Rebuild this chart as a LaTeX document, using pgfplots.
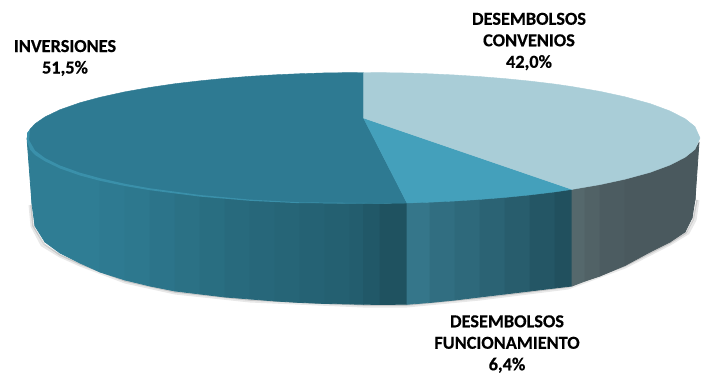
\documentclass[border=0pt]{standalone}
\usepackage{fontspec}
\setmainfont{Carlito}[BoldFeatures={FakeBold=0.4}]
\usepackage{pgfplots}
\pgfplotsset{compat=1.18}
\definecolor{invA}{HTML}{2F7D94}
\definecolor{invB}{HTML}{1F5260}
\definecolor{midA}{HTML}{35768A}
\definecolor{midB}{HTML}{21505E}
\definecolor{rgtA}{HTML}{55686C}
\definecolor{rgtB}{HTML}{4A595E}
\definecolor{topInv}{HTML}{2E7A92}
\definecolor{topMid}{HTML}{44A0BB}
\definecolor{topCon}{HTML}{A9CDD7}
\definecolor{rim}{HTML}{3A90AA}
% strip of the side wall: x1 top1 bottom1 x2 top2 bottom2 colour
\newcommand\strip[7]{\addplot[fill={#7},draw={#7},line width=.8pt,line join=round] coordinates {(#1,#2)(#4,#5)(#4,#6)(#1,#3)} --cycle;}
\begin{document}
\begin{tikzpicture}
\begin{axis}[scale only axis,width=707pt,height=375pt,xmin=0,xmax=707,ymin=0,ymax=375,y dir=reverse,hide axis,clip=false]
\path[draw=none,fill=none] (axis cs:0,0) rectangle (axis cs:707,375);
% soft shadow
\addplot[gray,opacity=.18,line width=3pt,line join=round] coordinates {(30,205)(32,226)(42,245)(60,256)(80,265)(125,282)(175,293)(250,301)(363,306)(407,306)(480,299)(568,288)(625,267)(670,244)(688,233)(695,220)(698,200)};
\addplot[gray,opacity=.3,line width=1.5pt,line join=round] coordinates {(31,205)(33,226)(44,244)(60,255)(80,264)(125,281)(175,292)(250,300)(363,305)(407,305)(480,298)(568,287)(625,266)(670,243)(686,233)(693,220)(697,200)};
% side wall: inversiones
\strip{27}{138}{138}{32}{149.3}{204}{invA}
\strip{32}{149.3}{204}{35}{152.2}{226}{invA}
\strip{35}{152.2}{226}{45}{159.1}{242}{invA}
\strip{45}{159.1}{242}{60}{166.3}{253}{invA}
\strip{60}{166.3}{253}{80}{173.3}{263}{invA}
\strip{80}{173.3}{263}{100}{178.7}{272}{invA}
\strip{100}{178.7}{272}{125}{184.2}{280}{invB!6!invA}
\strip{125}{184.2}{280}{150}{188.6}{286}{invB!12!invA}
\strip{150}{188.6}{286}{175}{192.3}{291}{invB!20!invA}
\strip{175}{192.3}{291}{200}{195.2}{294}{invB!28!invA}
\strip{200}{195.2}{294}{225}{197.7}{297}{invB!36!invA}
\strip{225}{197.7}{297}{250}{199.7}{299}{invB!44!invA}
\strip{250}{199.7}{299}{275}{201.2}{301}{invB!50!invA}
\strip{275}{201.2}{301}{300}{202.3}{302.5}{invB!56!invA}
\strip{300}{202.3}{302.5}{325}{203.1}{303.5}{invB!62!invA}
\strip{325}{203.1}{303.5}{350}{203.4}{304}{invB!68!invA}
\strip{350}{203.4}{304}{363.5}{203.5}{304.3}{invB!74!invA}
\strip{363.5}{203.5}{304.3}{380}{203.4}{304.4}{invB!85!invA}
\strip{380}{203.4}{304.4}{407}{203}{304.3}{invB}
% side wall: funcionamiento
\strip{407}{203}{304.3}{430}{202.2}{302.5}{midA}
\strip{430}{202.2}{302.5}{455}{201}{300}{midB!20!midA}
\strip{455}{201}{300}{480}{199.4}{297}{midB!35!midA}
\strip{480}{199.4}{297}{505}{197.4}{294}{midB!50!midA}
\strip{505}{197.4}{294}{530}{194.9}{291}{midB!65!midA}
\strip{530}{194.9}{291}{555}{191.9}{288}{midB!85!midA}
\strip{555}{191.9}{288}{572}{189.4}{286}{midB}
% side wall: convenios
\strip{572}{189.4}{286}{585}{187}{281}{rgtA}
\strip{585}{187}{281}{600}{184.6}{276}{rgtB!40!rgtA}
\strip{600}{184.6}{276}{625}{179.2}{265.5}{rgtB!80!rgtA}
\strip{625}{179.2}{265.5}{650}{172.4}{252}{rgtB}
\strip{650}{172.4}{252}{670}{165}{242}{rgtB}
\strip{670}{165}{242}{685}{157.3}{232}{rgtB}
\strip{685}{157.3}{232}{692}{152.2}{218}{rgtB}
\strip{692}{152.2}{218}{695}{149.3}{200}{rgtB}
\strip{695}{149.3}{200}{699}{143}{142}{rgtB}
% top face: inversiones
\addplot[fill=topInv,draw=topInv,line width=.4pt] coordinates {(363.5,118)(363.5,72.5)(350,72.6)(325,72.9)(300,73.7)(275,74.8)(250,76.3)(225,78.3)(200,80.8)(175,83.7)(150,87.4)(125,91.8)(100,97.3)(80,102.7)(60,109.7)(45,116.9)(35,123.8)(30,129.3)(27,138)(30,146.7)(35,152.2)(45,159.1)(60,166.3)(80,173.3)(100,178.7)(125,184.2)(150,188.6)(175,192.3)(200,195.2)(225,197.7)(250,199.7)(275,201.2)(300,202.3)(325,203.1)(350,203.4)(363.5,203.5)(380,203.4)(407,203)} --cycle;
% top face: funcionamiento
\addplot[fill=topMid,draw=topMid,line width=.4pt] coordinates {(363.5,118)(407,203)(430,202.2)(455,201)(480,199.4)(505,197.4)(530,194.9)(555,191.9)(572,189.4)} --cycle;
% top face: convenios
\addplot[fill=topCon,draw=topCon,line width=.4pt] coordinates {(363.5,118)(572,189.4)(600,184.6)(625,179.2)(650,172.4)(670,165)(685,157.3)(695,149.3)(700,138)(695,126.7)(685,118.7)(670,111)(650,103.6)(625,96.8)(600,91.4)(572,86.6)(555,84.1)(530,81.1)(505,78.6)(480,76.6)(455,75)(430,73.8)(407,73)(380,72.6)(363.5,72.5)} --cycle;
% rim highlight
\addplot[fill=rim,draw=none] coordinates {(27,133)(30,129.3)(29,140)(35,150.5)(45,158)(60,165.5)(80,172.7)(100,178.2)(125,183.8)(150,188.3)(200,195)(250,199.6)(300,202.3)(407,203.4)(300,203.2)(250,200.8)(200,196.6)(150,190.2)(125,186)(100,180.8)(80,175.5)(60,168.5)(45,161.3)(35,155)(30,149.5)(27,141)} --cycle;
\node[font=\fontsize{18.3}{21.5}\selectfont\bfseries,align=center,text=black] at (axis cs:65,58) {INVERSIONES\\51,5\%};
\node[font=\fontsize{18.3}{21.5}\selectfont\bfseries,align=center,text=black] at (axis cs:529,41.5) {DESEMBOLSOS\\CONVENIOS\\42,0\%};
\node[font=\fontsize{18.3}{21.5}\selectfont\bfseries,align=center,text=black] at (axis cs:507,344) {DESEMBOLSOS\\FUNCIONAMIENTO\\6,4\%};
\end{axis}
\end{tikzpicture}
\end{document}
